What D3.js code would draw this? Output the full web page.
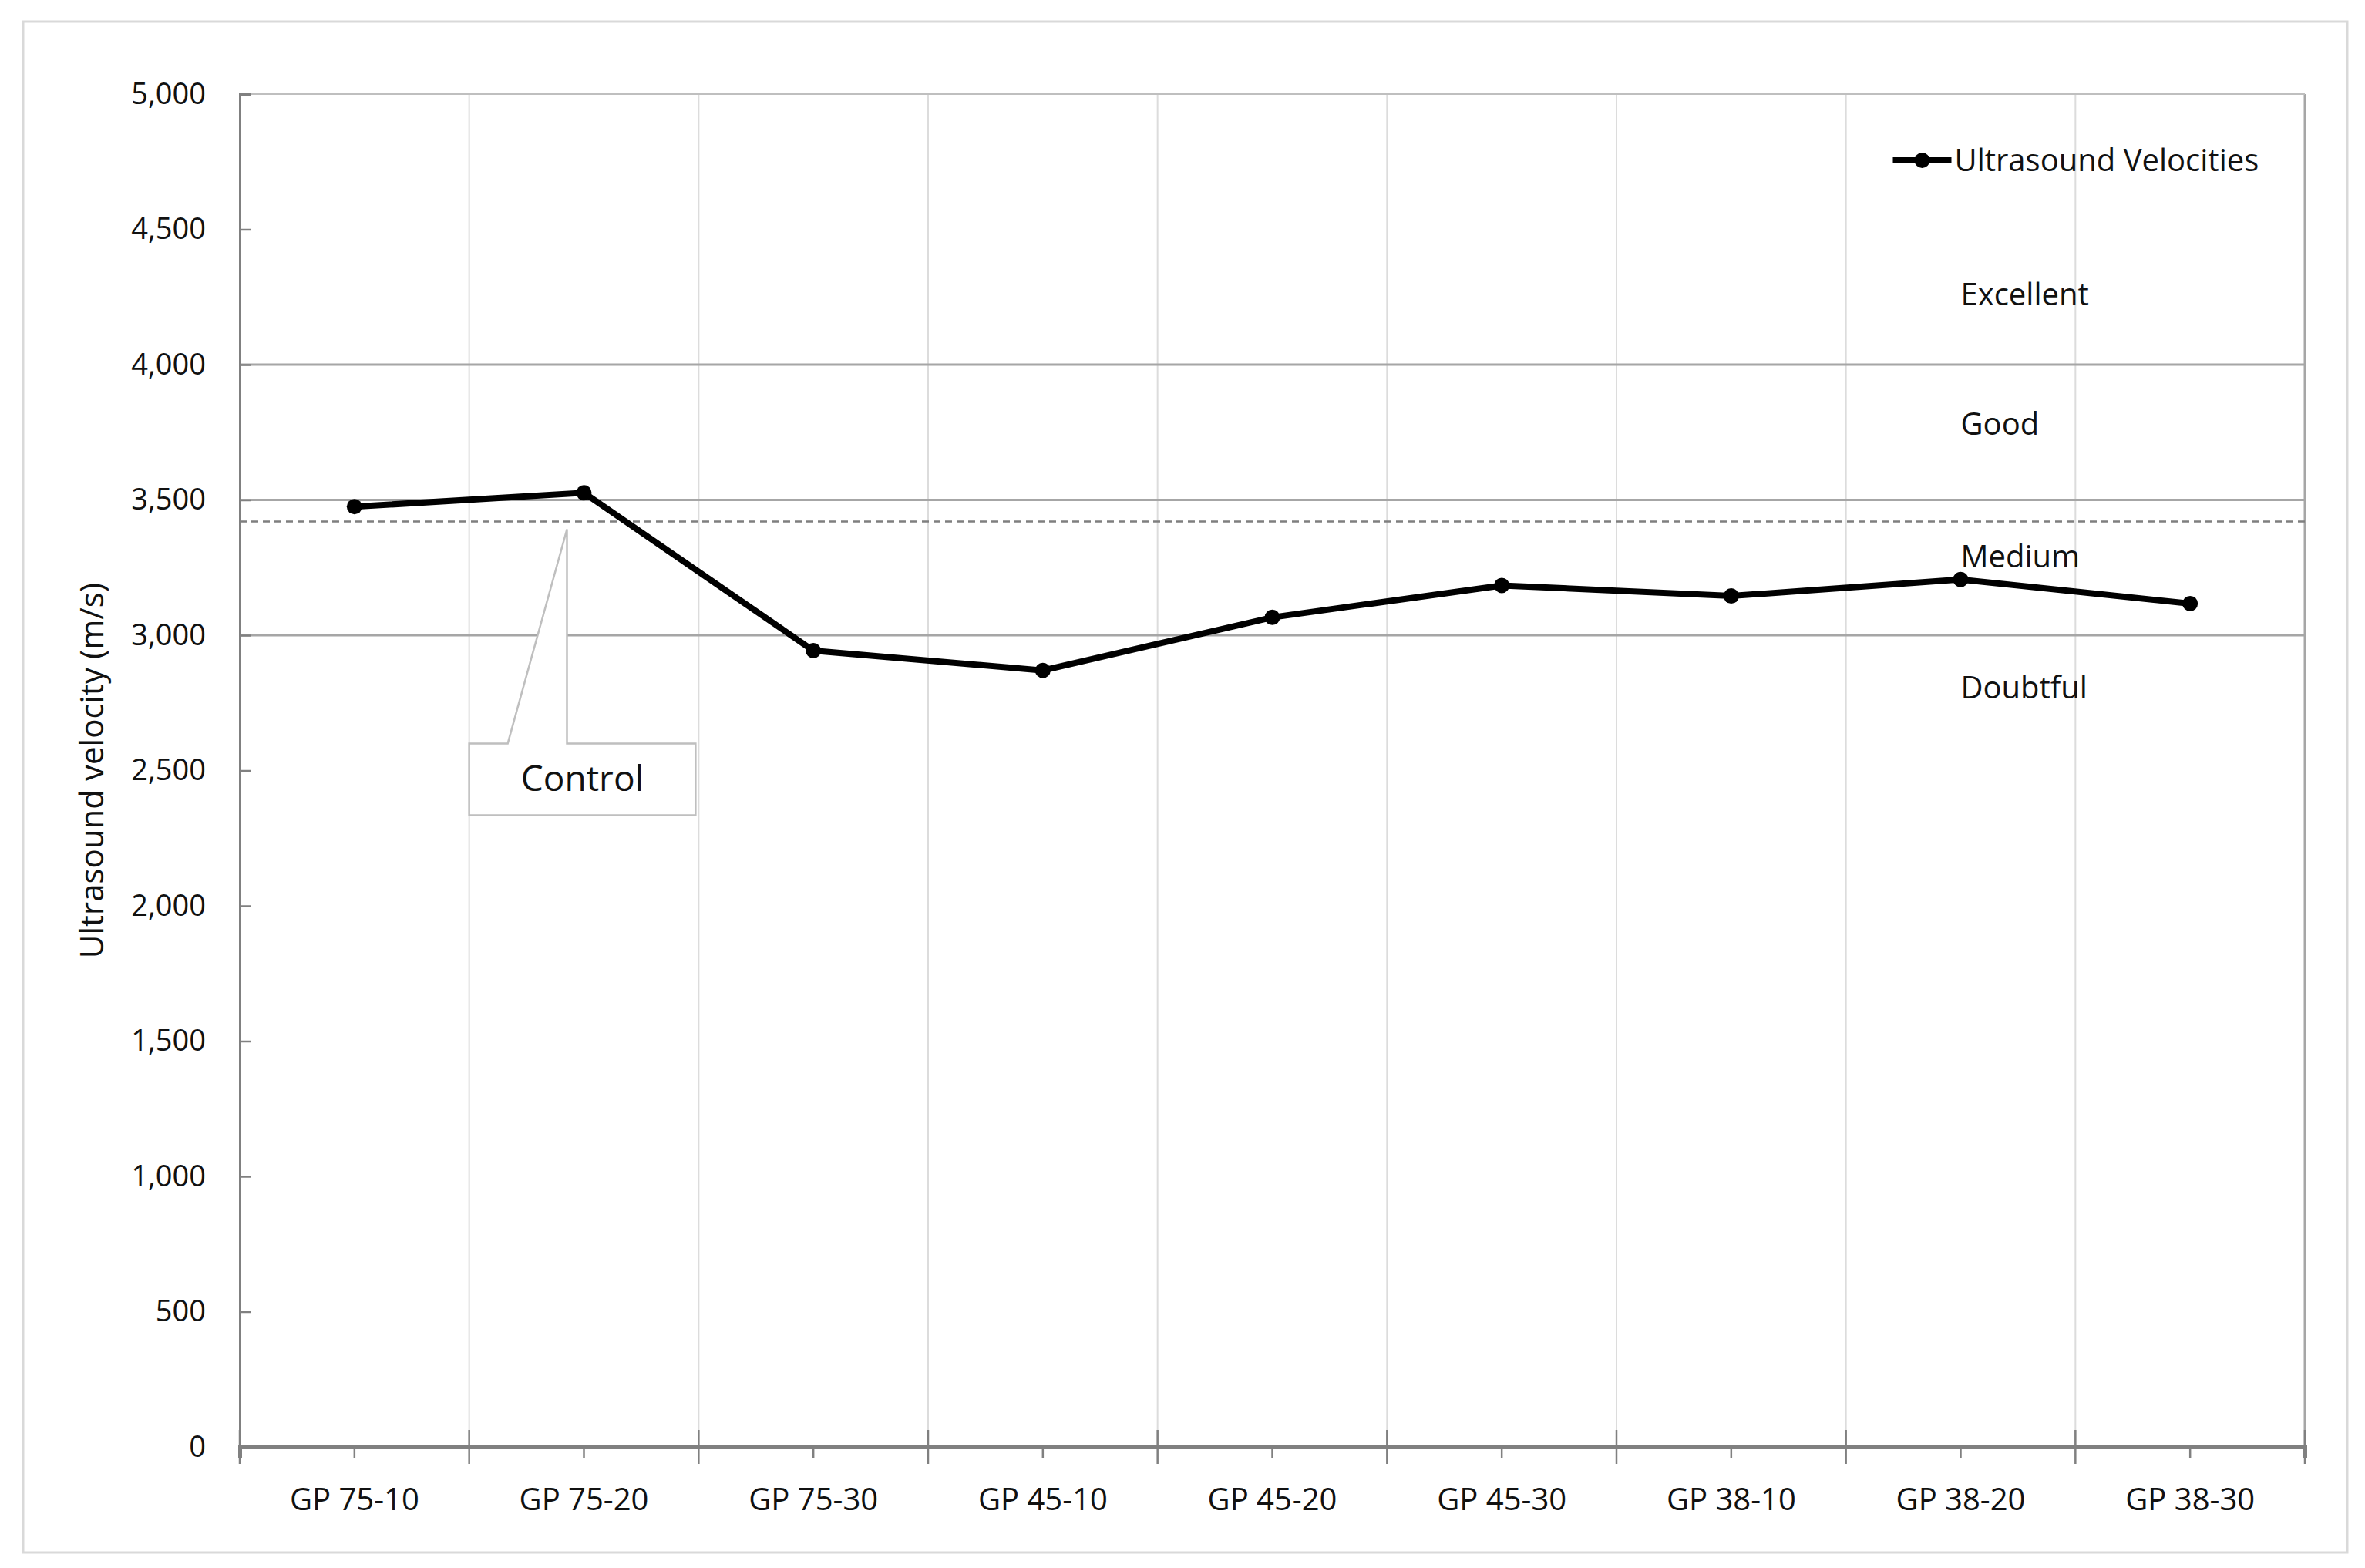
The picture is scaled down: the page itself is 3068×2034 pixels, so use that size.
<!DOCTYPE html>
<html><head><meta charset="utf-8">
<script src="https://cdn.jsdelivr.net/npm/d3@7"></script>
<style>body{margin:0;background:#fff}text{font-family:"Open Sans",sans-serif;fill:#111}</style>
</head><body><svg id="c" width="3068" height="2034"></svg>
<script>
const categories = ['GP 75-10','GP 75-20','GP 75-30','GP 45-10','GP 45-20','GP 45-30','GP 38-10','GP 38-20','GP 38-30'];
const velocities = [3475, 3526, 2943, 2870, 3066, 3184, 3145, 3206, 3117];
const yTicks = [0,500,1000,1500,2000,2500,3000,3500,4000,4500,5000];
const classLines = [3000, 3500, 4000];
const classes = [{label:'Excellent', v:4260},{label:'Good', v:3780},{label:'Medium', v:3290},{label:'Doubtful', v:2805}];
const controlValue = 3420;

const svg = d3.select('#c');
const margin = {top:122, right:78, bottom:157, left:311};
const W = 3068, H = 2034;
const iw = W - margin.left - margin.right, ih = H - margin.top - margin.bottom;

svg.append('rect').attr('x',30).attr('y',28).attr('width',3015).attr('height',1986)
  .attr('fill','#fff').attr('stroke','#d9d9d9').attr('stroke-width',3);

const g = svg.append('g').attr('transform',`translate(${margin.left},${margin.top})`);
const x = d3.scaleBand().domain(categories).range([0,iw]);
const y = d3.scaleLinear().domain([0,5000]).range([ih,0]);

// vertical gridlines at band edges
categories.forEach((c,i)=>{ if(i>0) g.append('line').attr('x1',x(c)).attr('x2',x(c)).attr('y1',0).attr('y2',ih)
  .attr('stroke','#dcdcdc').attr('stroke-width',2); });
g.append('line').attr('x1',iw).attr('x2',iw).attr('y1',0).attr('y2',ih).attr('stroke','#a6a6a6').attr('stroke-width',3);
g.append('line').attr('x1',0).attr('x2',iw).attr('y1',0).attr('y2',0).attr('stroke','#bfbfbf').attr('stroke-width',2);

// classification lines
g.selectAll('.cls').data(classLines).join('line')
  .attr('x1',0).attr('x2',iw).attr('y1',d=>y(d)).attr('y2',d=>y(d))
  .attr('stroke','#a6a6a6').attr('stroke-width',3);
g.append('line').attr('x1',0).attr('x2',iw).attr('y1',y(controlValue)).attr('y2',y(controlValue))
  .attr('stroke','#7f7f7f').attr('stroke-width',2.5).attr('stroke-dasharray','9,6');

// y axis
const ya = g.append('g').call(d3.axisLeft(y).tickValues(yTicks).tickSize(-14).tickPadding(44));
ya.select('.domain').attr('stroke','#808080').attr('stroke-width',3);
ya.selectAll('.tick line').attr('stroke','#808080').attr('stroke-width',2.5);
ya.selectAll('.tick text').attr('font-size',38).attr('font-family','"Open Sans",sans-serif').attr('fill','#111');

// x axis
const xa = g.append('g').attr('transform',`translate(0,${ih})`).call(d3.axisBottom(x).tickSize(14).tickPadding(40));
xa.select('.domain').attr('stroke','#808080').attr('stroke-width',5);
xa.selectAll('.tick line').attr('stroke','#808080').attr('stroke-width',2.5);
xa.selectAll('.tick text').attr('font-size',40).attr('font-family','"Open Sans",sans-serif').attr('fill','#111');
categories.forEach(c=>{ g.append('line').attr('x1',x(c)).attr('x2',x(c)).attr('y1',ih-22).attr('y2',ih+22)
  .attr('stroke','#808080').attr('stroke-width',2.5); });
g.append('line').attr('x1',iw).attr('x2',iw).attr('y1',ih-22).attr('y2',ih+22).attr('stroke','#808080').attr('stroke-width',2.5);

svg.append('text').attr('transform',`translate(134,${margin.top+ih*0.5}) rotate(-90)`)
  .attr('text-anchor','middle').attr('font-size',42).text('Ultrasound velocity (m/s)');

// control callout
const cx = x(categories[1]) + x.bandwidth()/2 - 22, cy = y(controlValue) + 10;
const bx0 = x(categories[1]), bx1 = x(categories[2]) - 4, by0 = y(2600), by1 = y(2335);
g.append('path').attr('d',`M${bx0},${by0}H${bx0+50}L${cx},${cy}V${by0}H${bx1}V${by1}H${bx0}Z`)
  .attr('fill','#fff').attr('stroke','#bfbfbf').attr('stroke-width',2.5);
g.append('text').attr('x',(bx0+bx1)/2).attr('y',(by0+by1)/2+15).attr('text-anchor','middle')
  .attr('font-size',46).text('Control');

// series
const cxp = d => x(d) + x.bandwidth()/2;
g.append('path').datum(velocities).attr('fill','none').attr('stroke','#000').attr('stroke-width',8)
  .attr('d', d3.line().x((d,i)=>cxp(categories[i])).y(d=>y(d)));
g.selectAll('.pt').data(velocities).join('circle').attr('cx',(d,i)=>cxp(categories[i])).attr('cy',d=>y(d))
  .attr('r',10).attr('fill','#000');

// class labels
const lx = cxp(categories[7]);
g.selectAll('.cl').data(classes).join('text').attr('x',lx).attr('y',d=>y(d.v)+14)
  .attr('font-size',40).text(d=>d.label);

// legend
const ly = 208 - margin.top;
g.append('line').attr('x1',lx-88).attr('x2',lx-12).attr('y1',ly).attr('y2',ly).attr('stroke','#000').attr('stroke-width',8);
g.append('circle').attr('cx',lx-50).attr('cy',ly).attr('r',10).attr('fill','#000');
g.append('text').attr('x',lx-8).attr('y',ly+14).attr('font-size',40).text('Ultrasound Velocities');
</script></body></html>
